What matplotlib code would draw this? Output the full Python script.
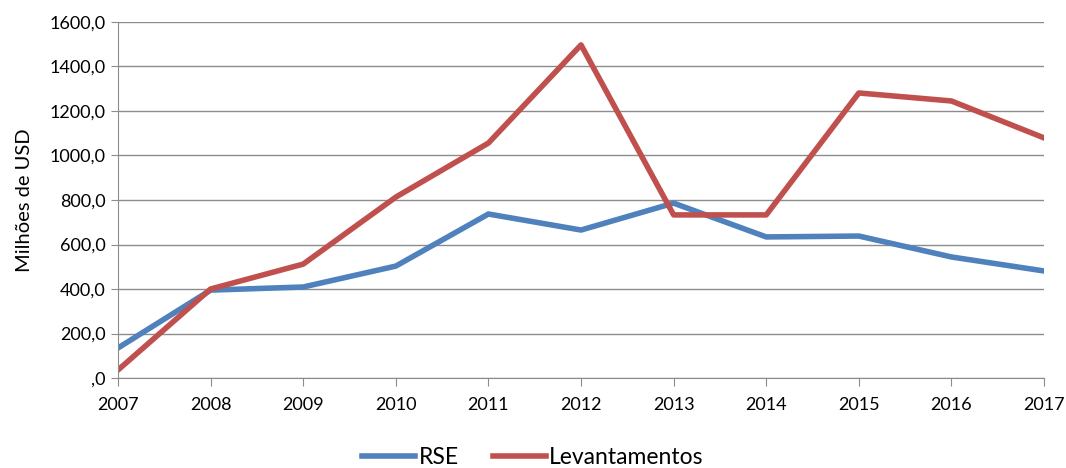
import matplotlib.pyplot as plt
from matplotlib.ticker import FuncFormatter

anos = [2007, 2008, 2009, 2010, 2011, 2012, 2013, 2014, 2015, 2016, 2017]
rse = [135, 395, 409, 503, 737, 665, 786, 634, 638, 544, 481]
levantamentos = [36, 400, 512, 813, 1056, 1497, 733, 733, 1281, 1245, 1079]

plt.rcParams['font.family'] = ['Lato', 'DejaVu Sans']

fig = plt.figure(figsize=(10.66, 4.68), dpi=100)
ax = fig.add_axes([0.1107, 0.1923, 0.8687, 0.7607])

ax.plot(anos, rse, color='#4F81BD', lw=4, solid_joinstyle='round', label='RSE')
ax.plot(anos, levantamentos, color='#C0504D', lw=4, solid_joinstyle='round', label='Levantamentos')

ax.set_xlim(2007, 2017)
ax.set_ylim(0, 1600)
ax.set_xticks(anos)
ax.set_yticks(range(0, 1601, 200))


def fmt(v, pos):
    s = '%.1f' % v
    s = s.replace('.', ',')
    if s.startswith('0'):
        s = s[1:]
    return s


ax.yaxis.set_major_formatter(FuncFormatter(fmt))
ax.grid(axis='y', color='#8c8c8c', lw=1)
ax.set_axisbelow(True)
for s in ['top', 'right']:
    ax.spines[s].set_visible(False)
for s in ['left', 'bottom']:
    ax.spines[s].set_color('#8c8c8c')
ax.tick_params(axis='x', direction='out', length=6, color='#8c8c8c', labelsize=13, pad=8)
ax.tick_params(axis='y', direction='out', length=5, color='#8c8c8c', labelsize=13, pad=4)
ax.set_ylabel('Milhões de USD', fontsize=14.5, labelpad=12)

fig.legend(*ax.get_legend_handles_labels(), loc='center', bbox_to_anchor=(0.5, 0.022),
           ncol=2, frameon=False, fontsize=16.5, handlelength=2.3,
           handletextpad=0.15, columnspacing=1.5)

fig.savefig('out.png', dpi=100)
